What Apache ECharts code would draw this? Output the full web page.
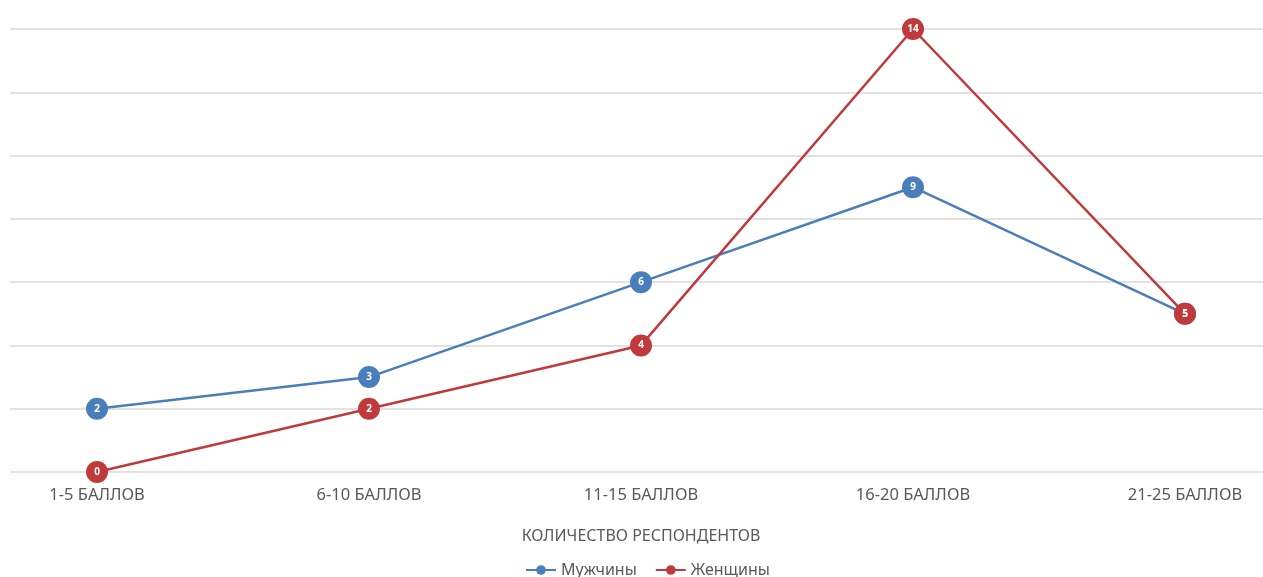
<!DOCTYPE html>
<html><head><meta charset="utf-8">
<script src="https://cdn.jsdelivr.net/npm/echarts@6/dist/echarts.min.js"></script>
<style>html,body{margin:0;padding:0;background:#fff}#c{width:1263px;height:577px}</style>
</head><body><div id="c"></div>
<script>
const categories = ['1-5 БАЛЛОВ', '6-10 БАЛЛОВ', '11-15 БАЛЛОВ', '16-20 БАЛЛОВ', '21-25 БАЛЛОВ'];
const men = [2, 3, 6, 9, 5];
const women = [0, 2, 4, 14, 5];
const axisTitle = 'КОЛИЧЕСТВО РЕСПОНДЕНТОВ';
const seriesNames = ['Мужчины', 'Женщины'];

const FONT = 'Noto Sans';
const chart = echarts.init(document.getElementById('c'));
const lbl = {show: true, position: 'inside', color: '#fff', fontWeight: 'bold', fontSize: 10, fontFamily: FONT};
chart.setOption({
  animation: false,
  grid: [
    {left: 10, right: 0, top: 29, bottom: 105},
    {left: 97, right: 78, top: 29, bottom: 105}
  ],
  xAxis: [
    {gridIndex: 0, type: 'category', data: categories, show: false},
    {gridIndex: 1, type: 'category', data: categories, boundaryGap: false,
     axisLine: {show: false}, axisTick: {show: false},
     axisLabel: {color: '#595959', fontSize: 16.5, fontFamily: FONT, margin: 15},
     name: axisTitle, nameLocation: 'middle', nameGap: 56,
     nameTextStyle: {color: '#595959', fontSize: 16, fontFamily: FONT}}
  ],
  yAxis: [
    {gridIndex: 0, type: 'value', min: 0, max: 14, interval: 2,
     axisLabel: {show: false}, axisLine: {show: false}, axisTick: {show: false},
     splitLine: {lineStyle: {color: '#d9d9d9', width: 1.5}}},
    {gridIndex: 1, type: 'value', min: 0, max: 14, interval: 2, show: false, splitLine: {show: false}}
  ],
  legend: {
    left: 520, top: 557, itemWidth: 30, itemHeight: 12, itemGap: 18,
    textStyle: {color: '#595959', fontSize: 16, fontFamily: FONT},
    data: seriesNames
  },
  series: [
    {name: seriesNames[0], type: 'line', xAxisIndex: 1, yAxisIndex: 1, data: men,
     color: '#4a7ebb', lineStyle: {width: 2.5}, symbol: 'circle', symbolSize: 22,
     itemStyle: {color: '#4a7ebb'}, label: lbl},
    {name: seriesNames[1], type: 'line', xAxisIndex: 1, yAxisIndex: 1, data: women,
     color: '#c0393b', lineStyle: {width: 2.5}, symbol: 'circle', symbolSize: 22,
     itemStyle: {color: '#c0393b'}, label: lbl}
  ]
});
</script></body></html>
